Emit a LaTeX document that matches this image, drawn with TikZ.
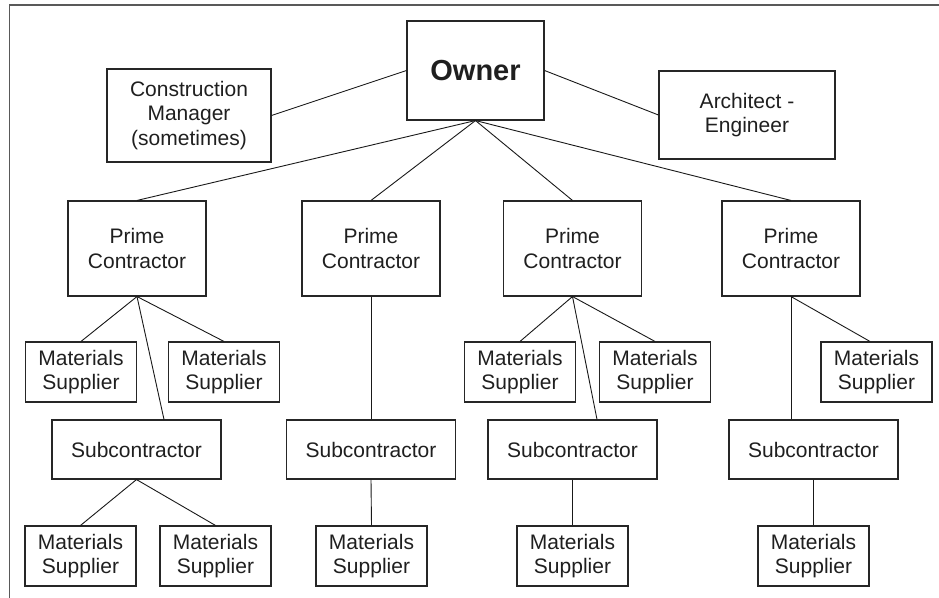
\documentclass[tikz,border=0pt]{standalone}
\usepackage{fontspec}
\setmainfont{Liberation Sans}
\begin{document}
\begin{tikzpicture}[x=1bp,y=-1bp,
  box/.style={draw=black!85, line width=1.1bp, inner sep=0pt, align=center,
    text=black!88, font=\fontsize{21bp}{24.5bp}\selectfont},
  ownerbox/.style={box, minimum width=137bp, minimum height=99bp,
    font=\fontsize{29bp}{34bp}\selectfont\bfseries},
  primebox/.style={box, minimum width=138bp, minimum height=95bp},
  subbox/.style={box, minimum width=169bp, minimum height=59bp},
  supbox/.style={box, minimum width=111bp, minimum height=60bp},
  link/.style={draw=black!90, line width=0.9bp},
  frame/.style={draw=black!65, line width=1.5bp}]
\useasboundingbox (0,0) rectangle (939,598);

% partial frame (top and left edges)
\coordinate (fTL) at (9.5,5);
\coordinate (fTR) at (939,5);
\coordinate (fBL) at (9.5,598);
\draw[frame] (fTR) -- (fTL) -- (fBL);

% top level
\node[ownerbox] (owner) at (475.5,70.5) {Owner};
\node[box, minimum width=164bp, minimum height=93bp] (cm) at (189,115.5)
  {Construction\\Manager\\(sometimes)};
\node[box, minimum width=176bp, minimum height=88bp] (ae) at (747,115)
  {Architect -\\Engineer};

% prime contractors
\node[primebox] (pc1) at (137,248.5) {Prime\\Contractor};
\node[primebox] (pc2) at (371,248.5) {Prime\\Contractor};
\node[primebox] (pc3) at (572.5,248.5) {Prime\\Contractor};
\node[primebox] (pc4) at (791,248.5) {Prime\\Contractor};

% suppliers directly under prime contractors
\node[supbox] (ms1a) at (81,372) {Materials\\Supplier};
\node[supbox] (ms1b) at (224,372) {Materials\\Supplier};
\node[supbox] (ms3a) at (520,372) {Materials\\Supplier};
\node[supbox] (ms3b) at (655,372) {Materials\\Supplier};
\node[supbox] (ms4a) at (876.5,372) {Materials\\Supplier};

% subcontractors
\node[subbox] (sub1) at (136.5,449.5) {Subcontractor};
\node[subbox] (sub2) at (371,449.5) {Subcontractor};
\node[subbox] (sub3) at (572.5,449.5) {Subcontractor};
\node[subbox] (sub4) at (813.5,449.5) {Subcontractor};

% suppliers under subcontractors
\node[supbox] (ms1c) at (80.5,556) {Materials\\Supplier};
\node[supbox] (ms1d) at (215.5,556) {Materials\\Supplier};
\node[supbox] (ms2) at (371.5,556) {Materials\\Supplier};
\node[supbox] (ms3c) at (572.5,556) {Materials\\Supplier};
\node[supbox] (ms4b) at (813.5,556) {Materials\\Supplier};

% connectors
\draw[link] (owner.west) -- (cm.east);
\draw[link] (owner.east) -- (ae.west);
\foreach \p in {pc1,pc2,pc3,pc4}
  \draw[link] (owner.south) -- (\p.north);

\draw[link] (pc1.south) -- (ms1a.north);
\draw[link] (pc1.south) -- (ms1b.north);
\draw[link] (pc1.south) -- ([xshift=27.5bp]sub1.north);
\draw[link] (sub1.south) -- (ms1c.north);
\draw[link] (sub1.south) -- (ms1d.north);

\draw[link] (pc2.south) -- (sub2.north);
\draw[link] (sub2.south) -- (ms2.north);

\draw[link] (pc3.south) -- (ms3a.north);
\draw[link] (pc3.south) -- (ms3b.north);
\draw[link] (pc3.south) -- ([xshift=24.5bp]sub3.north);
\draw[link] (sub3.south) -- (ms3c.north);

\draw[link] (pc4.south) -- (pc4.south |- sub4.north);
\draw[link] (pc4.south) -- ([xshift=-6.5bp]ms4a.north);
\draw[link] (sub4.south) -- (ms4b.north);
\end{tikzpicture}
\end{document}
